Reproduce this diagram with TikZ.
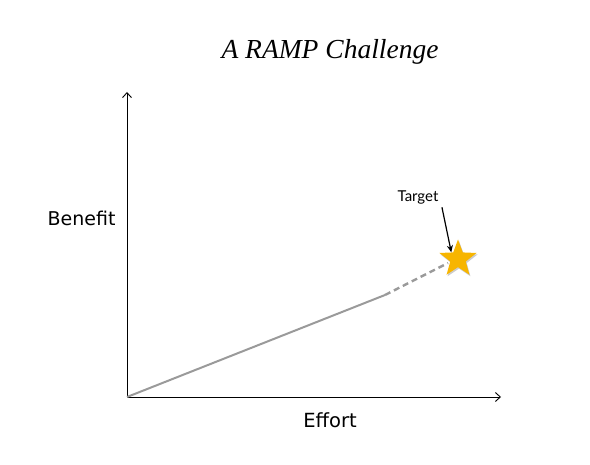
\documentclass[tikz,border=0pt]{standalone}
\usepackage{fontspec}
\setmainfont{DejaVu Sans}
\newfontfamily\handfont{Liberation Serif}
\newfontfamily\labelfont{Lato}
\usetikzlibrary{positioning,arrows.meta,shapes.geometric,shadows}
\definecolor{StarGold}{HTML}{F7B500}
\definecolor{RampGray}{HTML}{9A9A9A}

\begin{document}
\begin{tikzpicture}[x=1pt,y=-1pt,every node/.style={align=center}]
  \useasboundingbox (0,0) rectangle (590,465);
  \coordinate (origin) at (127,397);
  \coordinate (ytop) at (127,92);
  \coordinate (xend) at (501,397);
  \coordinate (rampend) at (385,295);
  \coordinate (dashend) at (448,263);
  \node[font=\handfont\itshape\fontsize{27.5}{32}\selectfont] (title) at (330,52) {A RAMP Challenge};
  \node[font=\fontsize{19}{22}\selectfont,anchor=east] (benefit) at (119,218) {Benefit};
  \node[font=\fontsize{19.5}{23}\selectfont] (effort) at (330,420) {Effort};
  \node[star,star points=5,star point ratio=2.4,minimum size=39pt,inner sep=0pt,fill=StarGold,drop shadow={opacity=0.4,shadow xshift=1pt,shadow yshift=-1.5pt}] (goal) at (458,259) {};
  \node[font=\labelfont\fontsize{15}{18}\selectfont] (target) at (418,197) {Target};
  \draw[line width=0.9pt,-{Straight Barb[length=5pt,width=9pt]}] (origin) -- (ytop);
  \draw[line width=0.9pt,-{Straight Barb[length=5pt,width=9pt]}] (origin) -- (xend);
  \draw[RampGray,line width=2pt] (origin) -- (rampend);
  \draw[RampGray,line width=2.4pt,dash pattern=on 6pt off 4pt] (rampend) -- (dashend);
  \draw[line width=1.2pt,-{Stealth[length=7pt,width=6pt]}] (target.south east) -- (goal.north west);
\end{tikzpicture}
\end{document}
